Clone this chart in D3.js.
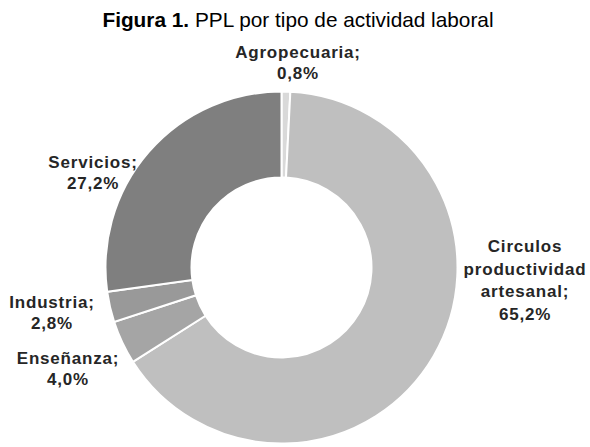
<!DOCTYPE html>
<html>
<head>
<meta charset="utf-8">
<script src="https://cdn.jsdelivr.net/npm/d3@7"></script>
<style>
  body { margin: 0; background: #fff; }
  svg { display: block; }
</style>
</head>
<body>
<svg id="chart" width="590" height="447"></svg>
<script>
// slices, clockwise from 12 o'clock
var categories = ["Agropecuaria", "Circulos productividad artesanal", "Enseñanza", "Industria", "Servicios"];
var values = [0.8, 65.2, 4.0, 2.8, 27.2];
var valueLabels = ["0,8%", "65,2%", "4,0%", "2,8%", "27,2%"];
var colors = ["#d9d9d9", "#bfbfbf", "#a5a5a5", "#999999", "#7f7f7f"];

// label lines (manual wrap like the original)
var labelLines = [
  ["Agropecuaria;", "0,8%"],
  ["Circulos", "productividad", "artesanal;", "65,2%"],
  ["Enseñanza;", "4,0%"],
  ["Industria;", "2,8%"],
  ["Servicios;", "27,2%"]
];
// label anchor positions
var labelPos = [[298, 52], [525, 246], [68, 358], [52, 302], [93, 162]];

var svg = d3.select("#chart");
var cx = 281.5, cy = 267.5, rOuter = 176, rInner = 90;

var title = svg.append("text")
  .attr("x", 298)
  .attr("y", 27)
  .attr("text-anchor", "middle")
  .style("font-family", "Liberation Sans, Arial, sans-serif")
  .style("font-size", "20.8px")
  .style("fill", "#000");
title.append("tspan").style("font-weight", "bold").text("Figura 1.");
title.append("tspan").text(" PPL por tipo de actividad laboral");

var data = categories.map(function (c, i) { return { name: c, value: values[i], i: i }; });

var pie = d3.pie().sort(null).value(function (d) { return d.value; });
var arc = d3.arc().innerRadius(rInner).outerRadius(rOuter);

var g = svg.append("g").attr("transform", "translate(" + cx + "," + cy + ")");
g.selectAll("path")
  .data(pie(data))
  .enter()
  .append("path")
  .attr("d", arc)
  .attr("fill", function (d) { return colors[d.data.i]; })
  .attr("stroke", "#fff")
  .attr("stroke-width", 2);

var lineH = [21, 22.5, 21, 21, 21];
data.forEach(function (d, i) {
  var t = svg.append("text")
    .attr("text-anchor", "middle")
    .style("font-family", "Liberation Sans, Arial, sans-serif")
    .style("font-weight", "bold")
    .style("font-size", "17px")
    .style("letter-spacing", "0.8px")
    .style("fill", "#262626");
  labelLines[i].forEach(function (line, k) {
    t.append("tspan")
      .attr("x", labelPos[i][0])
      .attr("y", labelPos[i][1] + 6 + k * lineH[i])
      .text(line);
  });
});
</script>
</body>
</html>
